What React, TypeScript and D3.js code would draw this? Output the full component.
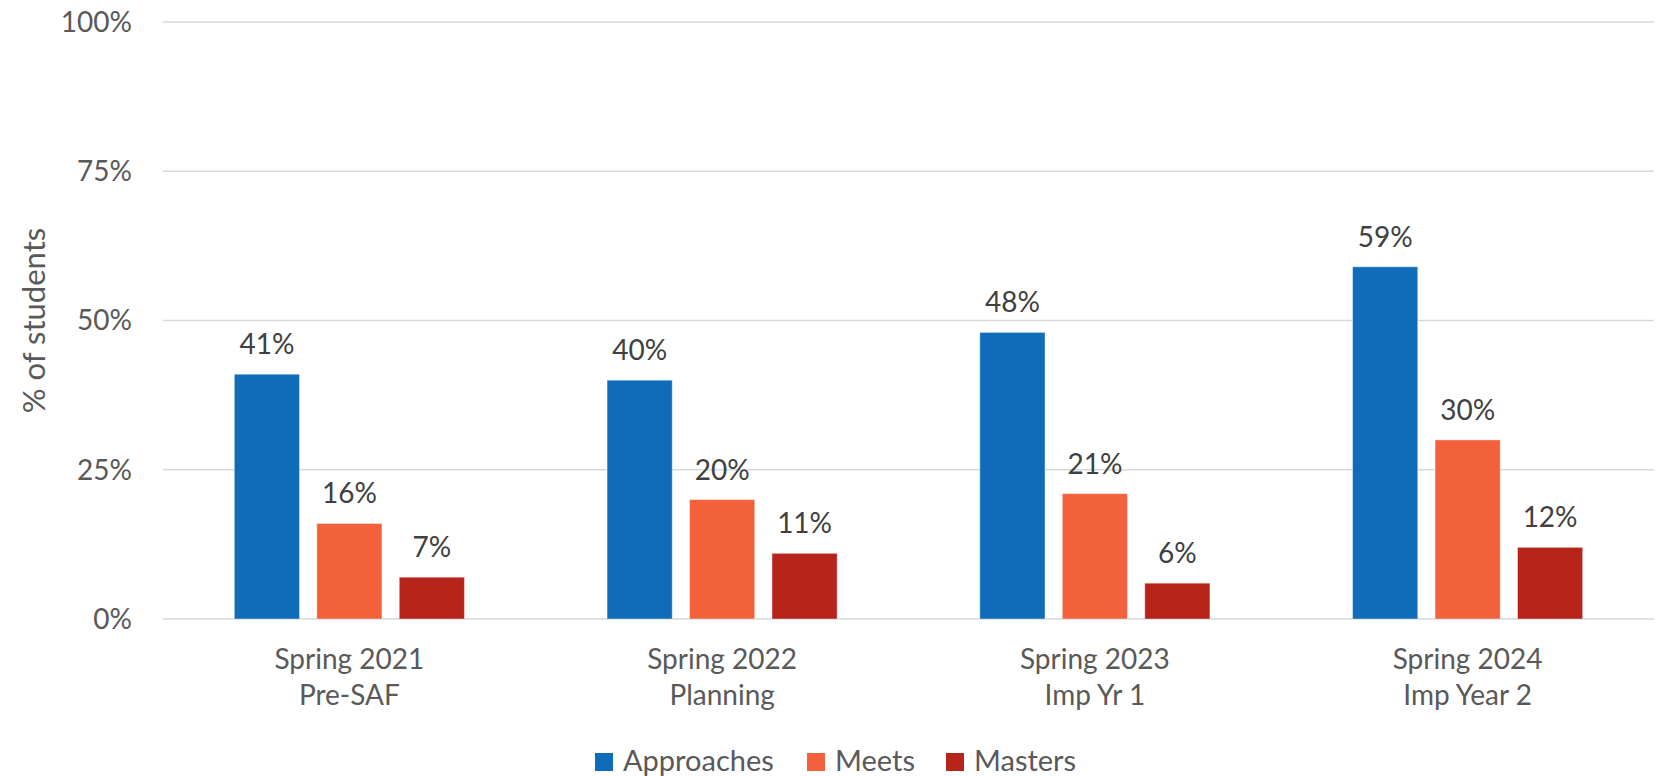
import { useEffect, useRef } from "react"
import * as d3 from "d3"

const categories = [
    ["Spring 2021", "Pre-SAF"],
    ["Spring 2022", "Planning"],
    ["Spring 2023", "Imp Yr 1"],
    ["Spring 2024", "Imp Year 2"],
]
const seriesNames = ["Approaches", "Meets", "Masters"]
const approaches = [41, 40, 48, 59]
const meets = [16, 20, 21, 30]
const masters = [7, 11, 6, 12]
const yTicks = [0, 25, 50, 75, 100]
const colors = ["#0e6cb8", "#f2613b", "#b6241a"]

export default function App() {
    const ref = useRef<SVGSVGElement>(null)

    useEffect(() => {
        const width = 1660
        const height = 776
        const margin = { top: 22, left: 163, right: 6, bottom: 157 }
        const font = "Lato, 'Noto Sans', sans-serif"
        const series = [approaches, meets, masters]

        const svg = d3.select(ref.current)
        svg.selectAll("*").remove()
        svg.attr("width", width).attr("height", height).attr("viewBox", `0 0 ${width} ${height}`)

        const x0 = d3.scaleBand<number>()
            .domain(categories.map((_, i) => i))
            .range([margin.left, width - margin.right])
        const x1 = d3.scaleBand<number>()
            .domain(seriesNames.map((_, i) => i))
            .range([0, x0.bandwidth()])
            .paddingInner(0.21)
            .paddingOuter(0.865)
        const y = d3.scaleLinear().domain([0, 100]).range([height - margin.bottom, margin.top])

        // grid lines + tick labels
        const grid = svg.append("g")
        grid.selectAll("line")
            .data(yTicks)
            .join("line")
                .attr("x1", margin.left)
                .attr("x2", width - margin.right)
                .attr("y1", d => y(d))
                .attr("y2", d => y(d))
                .attr("stroke", "#d9d9d9")
                .attr("stroke-width", 1.4)
        grid.selectAll("text")
            .data(yTicks)
            .join("text")
                .attr("x", 132)
                .attr("y", d => y(d))
                .attr("dy", "0.35em")
                .attr("text-anchor", "end")
                .attr("font-family", font)
                .attr("font-size", 28)
                .attr("fill", "#595959")
                .text(d => `${d}%`)

        // axis title
        svg.append("text")
            .attr("transform", `translate(45, ${(y(0) + y(100)) / 2}) rotate(-90)`)
            .attr("text-anchor", "middle")
            .attr("font-family", font)
            .attr("font-size", 31)
            .attr("fill", "#595959")
            .text("% of students")

        // bars
        series.forEach((vals, s) => {
            const g = svg.append("g")
            g.selectAll("rect")
                .data(vals)
                .join("rect")
                    .attr("x", (_, i) => (x0(i) ?? 0) + (x1(s) ?? 0))
                    .attr("y", d => y(d))
                    .attr("width", x1.bandwidth())
                    .attr("height", d => y(0) - y(d))
                    .attr("fill", colors[s])
                    .attr("stroke", "#ffffff")
                    .attr("stroke-opacity", 0.4)
                    .attr("stroke-width", 1)
            g.selectAll("text")
                .data(vals)
                .join("text")
                    .attr("x", (_, i) => (x0(i) ?? 0) + (x1(s) ?? 0) + x1.bandwidth() / 2)
                    .attr("y", d => y(d) - 20)
                    .attr("text-anchor", "middle")
                    .attr("font-family", font)
                    .attr("font-size", 28)
                    .attr("fill", "#404040")
                    .text(d => `${d}%`)
        })

        // category labels
        const cat = svg.append("g")
        cat.selectAll("text")
            .data(categories)
            .join("text")
                .attr("x", (_, i) => (x0(i) ?? 0) + x0.bandwidth() / 2)
                .attr("y", 669)
                .attr("text-anchor", "middle")
                .attr("font-family", font)
                .attr("font-size", 28)
                .attr("fill", "#595959")
                .call(t => t.append("tspan").text(d => d[0]))
                .call(t => t.append("tspan")
                    .attr("x", (_, i) => (x0(i) ?? 0) + x0.bandwidth() / 2)
                    .attr("dy", 36)
                    .text(d => d[1]))

        // legend
        const legendX = [595, 807, 946]
        const legend = svg.append("g")
        seriesNames.forEach((name, i) => {
            legend.append("rect")
                .attr("x", legendX[i])
                .attr("y", 753)
                .attr("width", 18)
                .attr("height", 18)
                .attr("fill", colors[i])
            legend.append("text")
                .attr("x", legendX[i] + 28)
                .attr("y", 771)
                .attr("font-family", font)
                .attr("font-size", 29)
                .attr("fill", "#595959")
                .text(name)
        })
    }, [])

    return (
        <svg ref={ref} style={{ position: "fixed", left: 0, top: 0, background: "#fff" }}></svg>
    )
}
